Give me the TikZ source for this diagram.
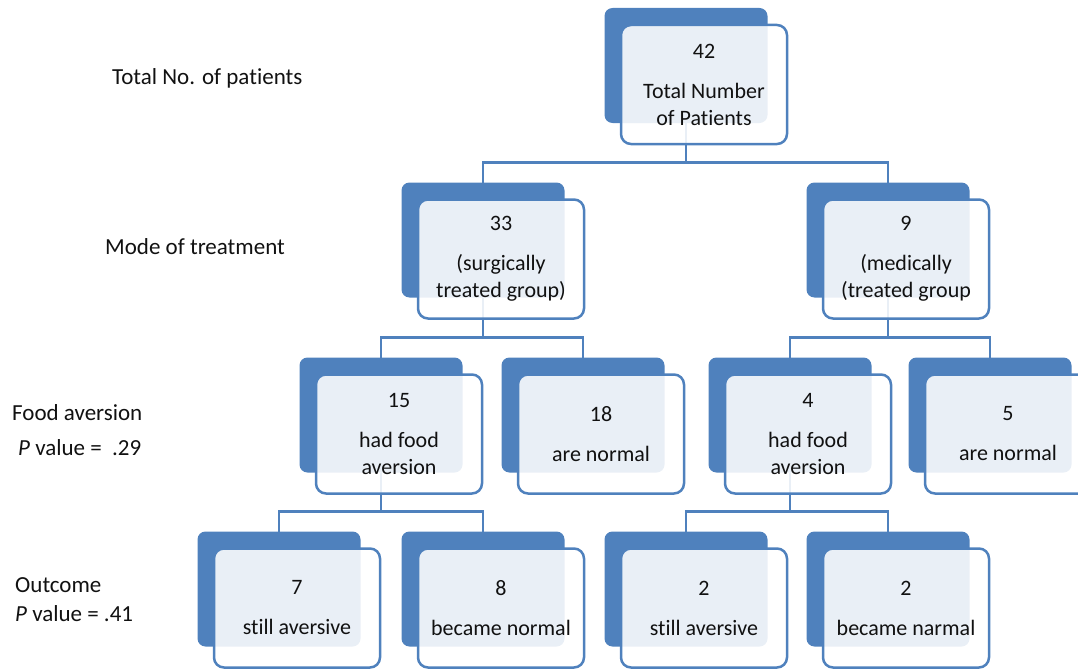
\documentclass[tikz,border=0pt]{standalone}
\usepackage{fontspec}
\setmainfont{Carlito}[Ligatures=NoCommon]
\usetikzlibrary{calc}
\usetikzlibrary{positioning}
\usetikzlibrary{backgrounds}
\definecolor{BoxBlue}{HTML}{4F81BD}
\definecolor{TextGrey}{HTML}{111111}
\tikzset{
  backbox/.style={rectangle, rounded corners=8pt, fill=BoxBlue,
    minimum width=163pt, minimum height=115pt, inner sep=0pt, outer sep=0pt},
  frontbox/.style={rectangle, rounded corners=10pt, draw=BoxBlue, line width=2.5pt,
    fill=white, fill opacity=.88, text opacity=1, text=TextGrey,
    minimum width=166pt, minimum height=119pt, align=center,
    font=\fontsize{22}{27}\selectfont, inner sep=0pt, outer sep=0pt},
  link/.style={draw=BoxBlue, line width=2.5pt},
  rowlabel/.style={anchor=west, inner sep=0pt, text=TextGrey, align=left,
    font=\fontsize{23}{28}\selectfont}
}

\begin{document}
\begin{tikzpicture}[x=1pt,y=-1pt]

  \useasboundingbox (0,0) rectangle (1078,669);
  \clip (0,0) rectangle (1078,669);

  % row labels on the left
  \node[rowlabel] (lTotal) at (112,78) {Total No. of patients};
  \node[rowlabel] (lMode) at (105,247) {Mode of treatment};
  \node[rowlabel] (lFood) at (12,430) {Food aversion\\[7pt]\hspace{6pt}\textit{P} value =\ \ .29};
  \node[rowlabel] (lOut) at (15,600) {Outcome\\[1pt]\textit{P} value = .41};

  % boxes: dark back card + light front card
  \foreach \name/\x/\y/\txt in {
      42/686/65.5/{42\\[13pt]Total Number\\of Patients},
      33/483/240/{33\\[13pt](surgically\\treated group)},
      9/888/240/{9\\[13pt](medically\\(treated group},
      15/381/415/{15\\[13pt]had food\\aversion},
      18/583/415/{18\\[13pt]are normal},
      4/790/415/{4\\[13pt]had food\\aversion},
      5/990/415/{5\\[13pt]are normal},
      7/279/589/{7\\[13pt]still aversive},
      8/483/589/{8\\[13pt]became normal},
      2a/686/589/{2\\[13pt]still aversive},
      2b/888/589/{2\\[13pt]became narmal}}
  {
    \node[backbox] (b\name) at (\x,\y) {};
    \node[frontbox] (f\name) at (\x+18,\y+19) {\txt};
  }

  % tree connectors, behind the cards
  \begin{scope}[on background layer]
    \foreach \from/\to in {42/33,42/9,33/15,33/18,9/4,9/5,15/7,15/8,4/2a,4/2b}
      \draw[link] (b\from.south) |- ([yshift=20pt]b\to.north) -- (b\to.north);
  \end{scope}

\end{tikzpicture}
\end{document}
